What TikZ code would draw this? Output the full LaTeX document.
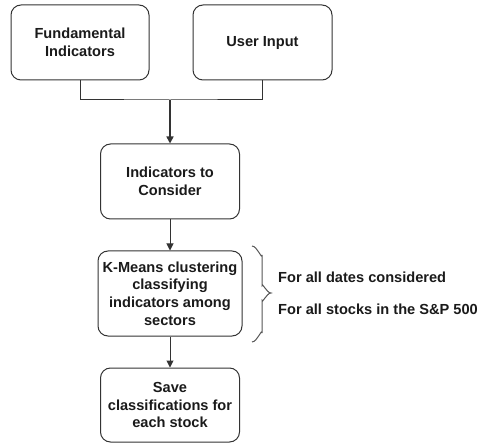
\documentclass[tikz,border=0pt]{standalone}
\usepackage{fontspec}
\setmainfont{Liberation Sans}
\usetikzlibrary{arrows.meta}
\definecolor{strokec}{HTML}{333333}
\definecolor{textc}{HTML}{1A1A1A}
\definecolor{bracec}{HTML}{555555}
\begin{document}
\begin{tikzpicture}[x=1pt,y=-1pt,
  box/.style={draw=strokec,line width=1pt,rounded corners=10pt,align=center,
    text=textc,font=\fontsize{14.6}{17.7}\selectfont\bfseries,inner sep=0pt},
  conn/.style={draw=strokec,line width=1pt},
  arr/.style={draw=strokec,line width=1pt,-{Triangle[length=7pt,width=7pt]}},
  side/.style={anchor=west,text=textc,font=\fontsize{14.6}{17.7}\selectfont\bfseries,inner sep=0pt}]
\useasboundingbox (0,0) rectangle (484,443);
\node[box,minimum width=138pt,minimum height=75pt] (fi) at (80,42.5) {Fundamental\\Indicators};
\node[box,minimum width=139pt,minimum height=75pt] (ui) at (262.5,42.5) {User Input};
\node[box,minimum width=139pt,minimum height=75pt] (ic) at (170,181.5) {Indicators to\\Consider};
\node[box,minimum width=144pt,minimum height=85pt] (km) at (170,293.5) {K-Means clustering\\classifying\\indicators among\\sectors};
\node[box,minimum width=139pt,minimum height=74pt] (sc) at (170,405) {Save\\classifications for\\each stock};
\coordinate (j) at (170,100);
\draw[conn] (fi.south) |- (j) -| (ui.south);
\draw[arr,line width=1.6pt] (j) -- (ic.north);
\draw[arr] (ic.south) -- (km.north);
\draw[arr] (km.south) -- (sc.north);
\draw[draw=bracec,line width=1pt] (252,246) to[out=0,in=-90] (262,255) -- (262,286)
  to[out=90,in=180] (271,293) to[out=180,in=-90] (262,300) -- (262,333)
  to[out=90,in=0] (252,342);
\node[side] (t1) at (278,277.5) {For all dates considered};
\node[side] (t2) at (278,309) {For all stocks in the S\&P 500};
\end{tikzpicture}
\end{document}
